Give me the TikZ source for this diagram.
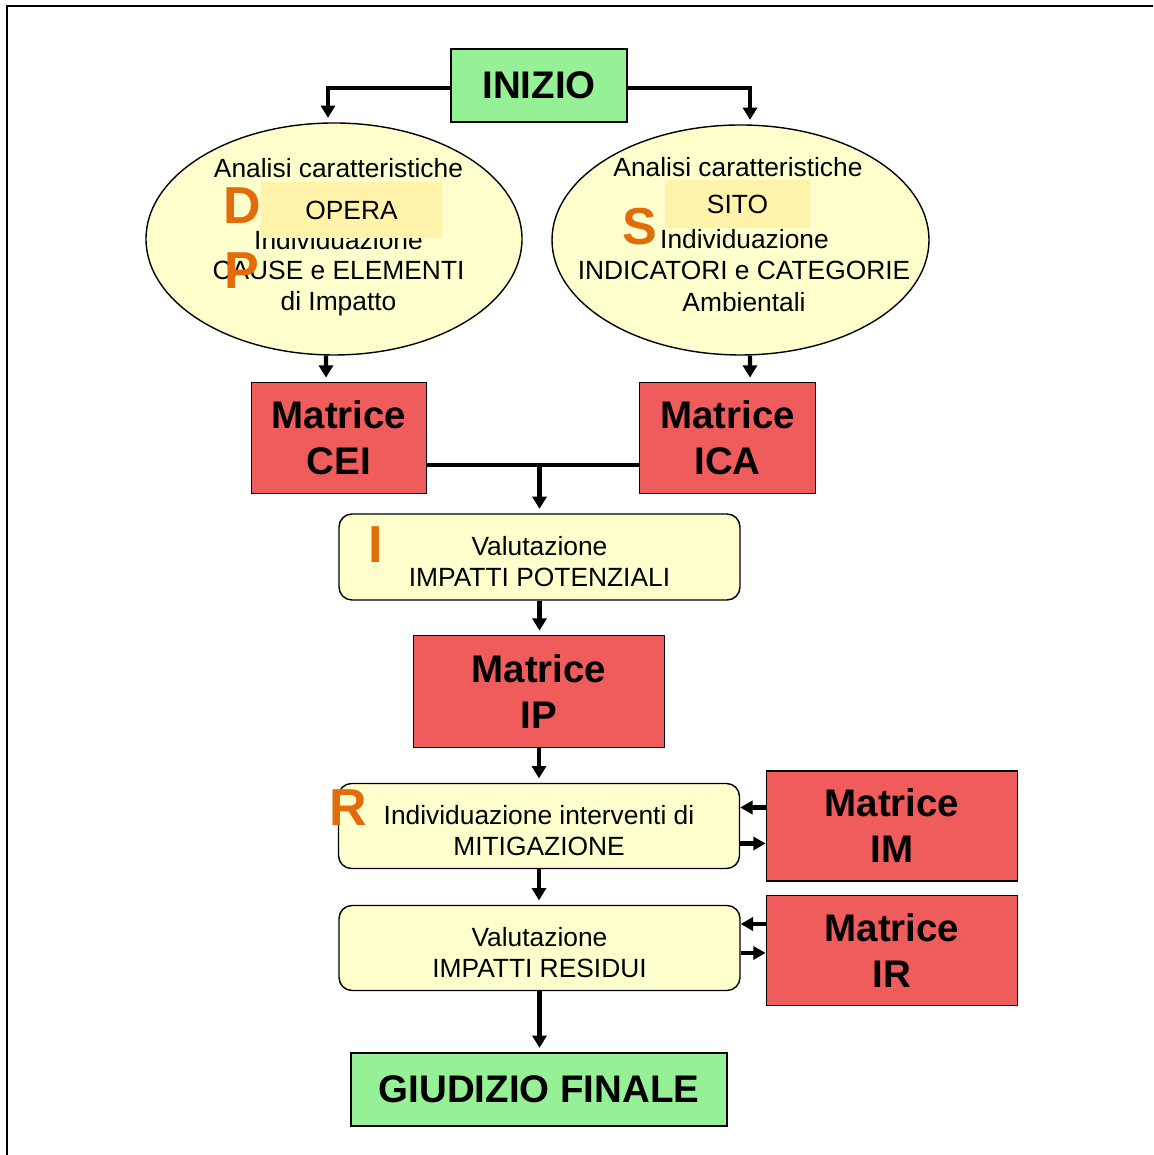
\documentclass[tikz,border=0pt]{standalone}
\usepackage{fontspec}
\setmainfont{Liberation Sans}
\usepackage{tikz}
\usetikzlibrary{positioning}
\usetikzlibrary{shapes.geometric,arrows.meta}
\definecolor{verde}{RGB}{150,240,150}
\definecolor{rosso}{RGB}{240,92,92}
\definecolor{giallino}{RGB}{255,255,205}
\definecolor{evidenza}{RGB}{255,243,170}
\definecolor{arancio}{RGB}{227,108,10}
\tikzset{
    estremo/.style={draw, line width=0.8pt, fill=verde, inner sep=0,
        font=\bfseries\fontsize{21.9}{26}\selectfont, minimum height=1.46cm},
    matrice/.style={draw, line width=0.8pt, fill=rosso, inner sep=0, align=center,
        font=\bfseries\fontsize{21.9}{26.2}\selectfont, minimum height=2.21cm},
    fase/.style={draw, line width=0.8pt, rounded corners=0.26cm, fill=giallino,
        inner sep=0, align=center, font=\fontsize{15}{17.6}\selectfont,
        minimum width=8.02cm, minimum height=1.71cm, text height=33.8pt, text depth=0pt},
    analisi/.style={ellipse, draw, line width=0.8pt, fill=giallino, inner sep=0},
    riga/.style={anchor=base, inner sep=0, font=\fontsize{15}{17.6}\selectfont},
    evid/.style={fill=evidenza, inner sep=0, font=\fontsize{15}{17.6}\selectfont},
    lettera/.style={anchor=base, inner sep=0, text=arancio,
        font=\bfseries\fontsize{29.6}{30}\selectfont},
    linea/.style={line width=2.3pt},
    freccia/.style={line width=2.3pt, -{Triangle[width=8pt,length=7pt]}, shorten >=2.5pt},
    laterale/.style={line width=2.3pt, -{Triangle[width=7.5pt,length=7pt]}}
}
\begin{document}
\begin{tikzpicture}
    \useasboundingbox (0,0) rectangle (23.06,23.1);
    \draw[line width=1.2pt] (0.14,0) -- (0.14,22.98) -- (23.06,22.98);

    \node[estremo, minimum width=3.52cm] (inizio) at (10.78,21.39) {INIZIO};

    % le due analisi
    \node[analisi, minimum width=7.52cm, minimum height=4.64cm] (opera) at (6.68,18.32) {};
    \node[riga] (op1) at (6.77,19.54) {Analisi caratteristiche};
    \node[riga] (op2) at (6.77,18.10) {Individuazione};
    \node[riga] (op3) at (6.77,17.50) {CAUSE e ELEMENTI};
    \node[riga] (op4) at (6.77,16.88) {di Impatto};
    \node[evid, minimum width=3.61cm, minimum height=1.13cm] (operabox) at (7.03,18.90) {OPERA};
    \node[lettera] (letD) at (4.84,18.63) {D};
    \node[lettera] (letP) at (4.84,17.33) {P};

    \node[analisi, minimum width=7.54cm, minimum height=4.60cm] (sito) at (14.81,18.30) {};
    \node[riga] (si1) at (14.76,19.56) {Analisi caratteristiche};
    \node[riga] (si2) at (14.89,18.12) {Individuazione};
    \node[riga] (si3) at (14.88,17.50) {INDICATORI e CATEGORIE};
    \node[riga] (si4) at (14.88,16.86) {Ambientali};
    \node[evid, minimum width=2.9cm, minimum height=0.96cm] (sitobox) at (14.75,19.01) {SITO};
    \node[lettera] (letS) at (12.80,18.20) {S};

    % matrici
    \node[matrice, minimum width=3.51cm] (cei) at (6.78,14.34) {Matrice\\CEI};
    \node[matrice, minimum width=3.53cm] (ica) at (14.55,14.34) {Matrice\\ICA};
    \node[matrice, minimum width=5.03cm, minimum height=2.23cm] (ip) at (10.78,9.27) {Matrice\\IP};
    \node[matrice, minimum width=5.03cm, minimum height=2.2cm] (im) at (17.84,6.58) {Matrice\\IM};
    \node[matrice, minimum width=5.03cm, minimum height=2.2cm] (ir) at (17.84,4.09) {Matrice\\IR};

    % fasi
    \node[fase, minimum height=1.72cm] (pot) at (10.79,11.96) {Valutazione\\IMPATTI POTENZIALI};
    \node[lettera] (letI) at (7.52,11.85) {I};
    \node[fase, minimum height=1.70cm] (mit) at (10.78,6.58) {Individuazione interventi di\\MITIGAZIONE};
    \node[lettera] (letR) at (6.96,6.58) {R};
    \node[fase, minimum height=1.70cm] (res) at (10.79,4.14) {Valutazione\\IMPATTI RESIDUI};

    \node[estremo, minimum width=7.52cm] (fine) at (10.78,1.31) {GIUDIZIO FINALE};

    % collegamenti
    \draw[freccia] ([yshift=-0.05cm]inizio.west) -| ([xshift=-0.12cm]opera.north);
    \draw[freccia] ([yshift=-0.05cm]inizio.east) -| ([xshift=0.19cm]sito.north);
    \draw[freccia] ([xshift=-0.16cm]opera.south) -- ([xshift=-0.26cm]cei.north);
    \draw[freccia] ([xshift=0.19cm]sito.south) -- ([xshift=0.45cm]ica.north);
    \coordinate (nodo) at ([yshift=-0.54cm]cei.east);
    \draw[linea] (nodo) -- (nodo -| ica.west);
    \draw[freccia] (nodo -| pot.north) -- (pot.north);
    \draw[freccia] (pot.south) -- (pot.south |- ip.north);
    \draw[freccia] (ip.south) -- (ip.south |- mit.north);
    \draw[freccia] (mit.south) -- (mit.south |- res.north);
    \draw[freccia] (res.south) -- (res.south |- fine.north);

    \coordinate (im1) at ([yshift=0.37cm]im.west);
    \coordinate (im2) at ([yshift=-0.35cm]im.west);
    \coordinate (ir1) at ([yshift=0.53cm]ir.west);
    \coordinate (ir2) at ([yshift=-0.05cm]ir.west);
    \draw[laterale] (im1) -- (im1 -| mit.east);
    \draw[laterale] (im2 -| mit.east) -- (im2);
    \draw[laterale] (ir1) -- (ir1 -| res.east);
    \draw[laterale] (ir2 -| res.east) -- (ir2);
\end{tikzpicture}
\end{document}
